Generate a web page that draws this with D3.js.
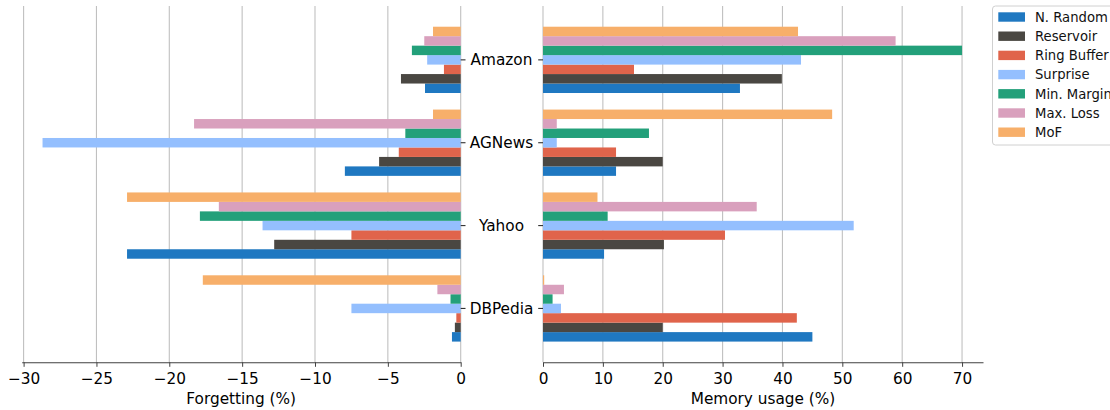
<!DOCTYPE html>
<html>
<head>
<meta charset="utf-8">
<script src="https://cdn.jsdelivr.net/npm/d3@7"></script>
<style>
  html, body { margin: 0; padding: 0; background: #fff; }
  svg { display: block; font-family: "DejaVu Sans", sans-serif; }
</style>
</head>
<body>
<svg id="chart" width="1110" height="410"></svg>
<script>
// ---- data ----
const categories = ["Amazon", "AGNews", "Yahoo", "DBPedia"];
const seriesNames = ["N. Random", "Reservoir", "Ring Buffer", "Surprise", "Min. Margin", "Max. Loss", "MoF"];
const seriesColors = ["#1f78c1", "#4a4742", "#e0644b", "#94bffe", "#23a07a", "#d9a0bd", "#f7af6a"];
// forgetting (%) per series, per category [Amazon, AGNews, Yahoo, DBPedia]
const forgetNRandom   = [-2.45, -7.95, -22.9, -0.6];
const forgetReservoir = [-4.1, -5.6, -12.8, -0.4];
const forgetRing      = [-1.15, -4.25, -7.5, -0.3];
const forgetSurprise  = [-2.3, -28.7, -13.6, -7.5];
const forgetMinMargin = [-3.35, -3.8, -17.9, -0.7];
const forgetMaxLoss   = [-2.5, -18.3, -16.6, -1.6];
const forgetMoF       = [-1.9, -1.9, -22.9, -17.7];
// memory usage (%)
const memNRandom   = [32.9, 12.2, 10.2, 45.0];
const memReservoir = [39.9, 20.0, 20.2, 20.0];
const memRing      = [15.2, 12.2, 30.4, 42.4];
const memSurprise  = [43.1, 2.3, 51.9, 3.0];
const memMinMargin = [70.0, 17.7, 10.8, 1.6];
const memMaxLoss   = [58.9, 2.3, 35.7, 3.5];
const memMoF       = [42.6, 48.3, 9.1, 0.2];
const forgetTicks = [-30, -25, -20, -15, -10, -5, 0];
const memTicks = [0, 10, 20, 30, 40, 50, 60, 70];

const forget = [forgetNRandom, forgetReservoir, forgetRing, forgetSurprise, forgetMinMargin, forgetMaxLoss, forgetMoF];
const mem = [memNRandom, memReservoir, memRing, memSurprise, memMinMargin, memMaxLoss, memMoF];

// ---- layout ----
const svg = d3.select("#chart");
const plotTop = 6, plotBottom = 362.3;
const fontSize = 15.3;
const y = d3.scaleLinear().domain([-0.65, 3.65]).range([plotTop, plotBottom]);
const xL = d3.scaleLinear().domain([-30.13, 0]).range([21.7, 460.7]);
const xR = d3.scaleLinear().domain([0, 73.5]).range([543, 983]);
const nS = seriesNames.length;
const bw = 0.8 / nS;
const barH = y(bw) - y(0);

function panel(x, data, ticks, label, side) {
  const g = svg.append("g");
  // grid
  g.selectAll("line.grid").data(ticks).join("line")
    .attr("x1", d => x(d)).attr("x2", d => x(d))
    .attr("y1", plotTop).attr("y2", plotBottom)
    .attr("stroke", "#c0c0c0").attr("stroke-width", 1.1);
  // bars
  data.forEach((vals, i) => {
    g.selectAll(null).data(vals).join("rect")
      .attr("x", d => Math.min(x(0), x(d)))
      .attr("width", d => Math.abs(x(d) - x(0)))
      .attr("y", (d, c) => y(c + (3 - i) * bw - bw / 2))
      .attr("height", barH)
      .attr("fill", seriesColors[i]);
  });
  // bottom axis
  const ax = g.append("g").attr("transform", `translate(0,${plotBottom})`)
    .call(d3.axisBottom(x).tickValues(ticks).tickSize(4.5).tickSizeOuter(0).tickPadding(6).tickFormat(d3.format("d")));
  ax.select(".domain").attr("stroke", "#404040").attr("stroke-width", 1.1);
  ax.selectAll(".tick line").attr("stroke", "#404040");
  ax.selectAll(".tick text").attr("font-size", fontSize).attr("fill", "#000")
    .attr("font-family", "DejaVu Sans");
  // y ticks
  categories.forEach((c, k) => {
    const x0 = side === "left" ? x.range()[1] : x.range()[0];
    const dx = side === "left" ? 4.8 : -4.8;
    g.append("line").attr("x1", x0).attr("x2", x0 + dx)
      .attr("y1", y(k)).attr("y2", y(k)).attr("stroke", "#303030").attr("stroke-width", 1.1);
  });
  // axis label
  g.append("text").attr("x", (x.range()[0] + x.range()[1]) / 2).attr("y", 403.5)
    .attr("text-anchor", "middle").attr("font-size", fontSize).attr("fill", "#000")
    .text(label);
}

panel(xL, forget, forgetTicks, "Forgetting (%)", "left");
panel(xR, mem, memTicks, "Memory usage (%)", "right");

// category labels
svg.selectAll("text.cat").data(categories).join("text")
  .attr("class", "cat")
  .attr("x", 501.5).attr("y", (d, k) => y(k) + 5.6)
  .attr("text-anchor", "middle").attr("font-size", fontSize).attr("fill", "#000")
  .text(d => d);

// legend
const lg = svg.append("g");
lg.append("rect").attr("x", 992.5).attr("y", 6).attr("width", 140).attr("height", 139)
  .attr("rx", 3).attr("fill", "#fff").attr("stroke", "#d0d0d0").attr("stroke-width", 1);
seriesNames.forEach((s, i) => {
  const yy = 12.3 + i * 19.2;
  lg.append("rect").attr("x", 998.3).attr("y", yy).attr("width", 26.7).attr("height", 9.4)
    .attr("fill", seriesColors[i]);
  lg.append("text").attr("x", 1035).attr("y", yy + 9.4)
    .attr("font-size", 13.2).attr("fill", "#111").text(s);
});
</script>
</body>
</html>
